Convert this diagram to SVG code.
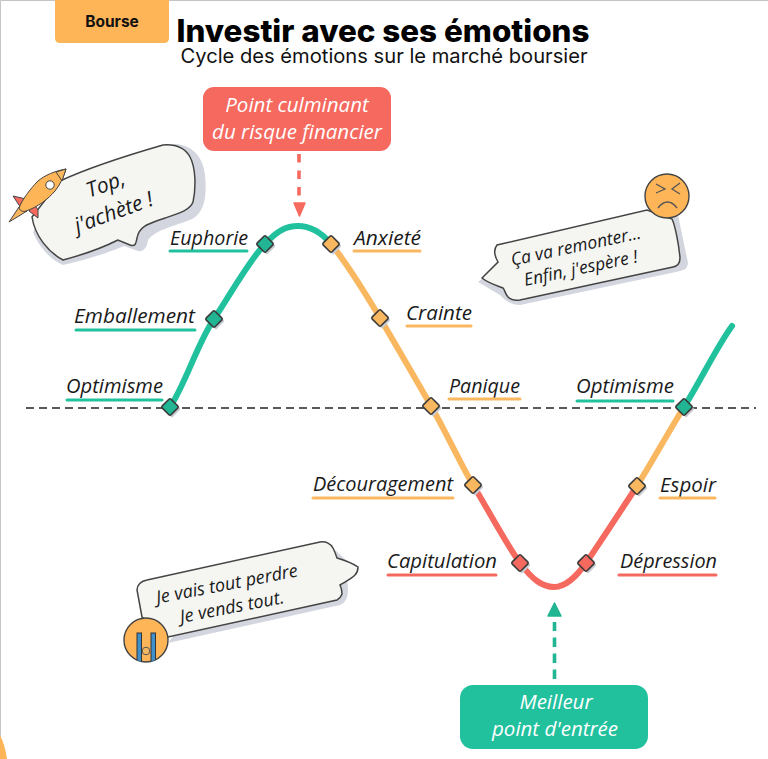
<svg xmlns="http://www.w3.org/2000/svg" width="768" height="759" viewBox="0 0 768 759">
<style>
.hand{font-family:"Open Sans","Noto Sans",sans-serif;font-style:italic;fill:#1a1a1a}
.lab{font-size:20px}
.wh{font-family:"Open Sans","Noto Sans",sans-serif;font-style:italic;fill:#fff;font-size:20.5px;text-anchor:middle}
.ul{stroke-width:3;fill:none;stroke-linecap:round}
.g{stroke:#21C19E}.y{stroke:#F9B75F}.r{stroke:#F5695F}
.cv{fill:none;stroke-width:6;stroke-linecap:round}
.dia{stroke:#3a3a3a;stroke-width:1.6}
.ds{fill:#C9CCD2;stroke:none}
.fg{fill:#21B593}.fy{fill:#F9B75F}.fr{fill:#F5695F}
.sh{fill:#D3D6DE}
.bub{fill:#F5F5F2;stroke:#444;stroke-width:1.5}
.bt{text-anchor:middle}
</style>
<defs>
<rect id="d" x="-6.200" y="-6.200" width="12.400" height="12.400" rx="1.500" transform="rotate(45)"/>
<clipPath id="fc"><circle cx="146" cy="640" r="22"/></clipPath>
</defs>
<rect width="768" height="759" fill="#fff"/>
<path d="M0.500 759V0.500H768" fill="none" stroke="#c4c4c4"/>
<path d="M0 759V735Q5 745 7 759Z" fill="#FDB558"/>
<g id="tag"><path d="M55 0H169V38Q169 43 164 43H60Q55 43 55 38Z" fill="#FDB558"/>
<text x="112" y="27" font-family="Inter,'Liberation Sans',sans-serif" font-weight="700" font-size="15.500" text-anchor="middle" fill="#111">Bourse</text></g>
<g id="title"><text x="383" y="42" font-family="Inter,'Liberation Sans',sans-serif" font-weight="800" font-size="31" text-anchor="middle" fill="#000" textLength="413" lengthAdjust="spacingAndGlyphs">Investir avec ses émotions</text>
<text x="384" y="63" font-family="Inter,'Liberation Sans',sans-serif" font-size="19.500" text-anchor="middle" fill="#111" textLength="407" lengthAdjust="spacingAndGlyphs">Cycle des émotions sur le marché boursier</text></g>

<g id="connectors">
<line x1="26" y1="408" x2="756" y2="408" stroke="#222" stroke-width="1.400" stroke-dasharray="8 5"/>
<path class="cv g" d="M170 407C185 385 198 342 214 319C232 292 248 262 265 244C277 231 286 226 298 226C311 226 321 232 331 244"/>
<path class="cv y" d="M331 244C348 265 364 291 380 318C397 347 414 376 431 406C446 432 459 461 473 485"/>
<path class="cv r" d="M473 485C489 511 505 542 520 563C532 579 542 587 554 587C566 587 576 577 586 563C603 538 620 512 637 486"/>
<path class="cv y" d="M637 486C653 460 668 433 684 407"/>
<path class="cv g" d="M684 407C700 382 716 348 732 326"/>
<line x1="299" y1="154" x2="299" y2="198" stroke="#F5695F" stroke-width="3.600" stroke-dasharray="8.500 8"/>
<path d="M294 203L299.500 216L305 203Z" fill="#F5695F" stroke="#F5695F" stroke-width="1.500" stroke-linejoin="round"/>
<line x1="554.500" y1="679" x2="554.500" y2="622" stroke="#21B593" stroke-width="3.600" stroke-dasharray="9.500 6.500"/>
<path d="M548 616L554.500 603L561 616Z" fill="#21B593" stroke="#21B593" stroke-width="1.500" stroke-linejoin="round"/>
</g>

<g id="n-optimisme1"><use href="#d" class="ds" x="172" y="409"/><use href="#d" class="dia fg" x="170" y="407"/><text class="hand lab" x="66" y="393" textLength="97" lengthAdjust="spacingAndGlyphs">Optimisme</text><line class="ul g" x1="67" y1="400" x2="162" y2="400"/></g>
<g id="n-emballement"><use href="#d" class="ds" x="216" y="321"/><use href="#d" class="dia fg" x="214" y="319"/><text class="hand lab" x="74" y="323" textLength="121" lengthAdjust="spacingAndGlyphs">Emballement</text><line class="ul g" x1="76" y1="330" x2="195" y2="330"/></g>
<g id="n-euphorie"><use href="#d" class="ds" x="267" y="246"/><use href="#d" class="dia fg" x="265" y="244"/><text class="hand lab" x="170" y="245" textLength="78" lengthAdjust="spacingAndGlyphs">Euphorie</text><line class="ul g" x1="170" y1="251" x2="247" y2="251"/></g>
<g id="n-anxiete"><use href="#d" class="ds" x="333" y="246"/><use href="#d" class="dia fy" x="331" y="244"/><text class="hand lab" x="354" y="245" textLength="67" lengthAdjust="spacingAndGlyphs">Anxieté</text><line class="ul y" x1="354" y1="251" x2="420" y2="251"/></g>
<g id="n-crainte"><use href="#d" class="ds" x="382" y="320"/><use href="#d" class="dia fy" x="380" y="318"/><text class="hand lab" x="406" y="320" textLength="66" lengthAdjust="spacingAndGlyphs">Crainte</text><line class="ul y" x1="407" y1="326" x2="471" y2="326"/></g>
<g id="n-panique"><use href="#d" class="ds" x="433" y="408"/><use href="#d" class="dia fy" x="431" y="406"/><text class="hand lab" x="449" y="393" textLength="71" lengthAdjust="spacingAndGlyphs">Panique</text><line class="ul y" x1="449" y1="399" x2="520" y2="399"/></g>
<g id="n-decouragement"><use href="#d" class="ds" x="475" y="487"/><use href="#d" class="dia fy" x="473" y="485"/><text class="hand lab" x="313" y="491" textLength="140" lengthAdjust="spacingAndGlyphs">Découragement</text><line class="ul y" x1="313" y1="498" x2="453" y2="498"/></g>
<g id="n-capitulation"><use href="#d" class="ds" x="522" y="565"/><use href="#d" class="dia fr" x="520" y="563"/><text class="hand lab" x="387" y="568" textLength="110" lengthAdjust="spacingAndGlyphs">Capitulation</text><line class="ul r" x1="388" y1="575" x2="496" y2="575"/></g>
<g id="n-depression"><use href="#d" class="ds" x="588" y="565"/><use href="#d" class="dia fr" x="586" y="563"/><text class="hand lab" x="620" y="568" textLength="97" lengthAdjust="spacingAndGlyphs">Dépression</text><line class="ul r" x1="619" y1="575" x2="716" y2="575"/></g>
<g id="n-espoir"><use href="#d" class="ds" x="639" y="488"/><use href="#d" class="dia fy" x="637" y="486"/><text class="hand lab" x="660" y="492" textLength="56" lengthAdjust="spacingAndGlyphs">Espoir</text><line class="ul y" x1="660" y1="498" x2="715" y2="498"/></g>
<g id="n-optimisme2"><use href="#d" class="ds" x="686" y="409"/><use href="#d" class="dia fg" x="684" y="407"/><text class="hand lab" x="576" y="393" textLength="98" lengthAdjust="spacingAndGlyphs">Optimisme</text><line class="ul g" x1="577" y1="401" x2="673" y2="401"/></g>

<g id="n-culminant"><rect x="203" y="87" width="188" height="64" rx="11" fill="#F5695F"/>
<text class="wh" x="297" y="112">Point culminant</text><text class="wh" x="297" y="139">du risque financier</text></g>
<g id="n-entree"><rect x="460" y="685" width="188" height="64" rx="13" fill="#21C19E"/>
<text class="wh" x="556" y="709">Meilleur</text><text class="wh" x="555" y="736">point d'entrée</text></g>

<g id="b-top">
<path class="sh" d="M50 200L174 144C190 144 203 155 205 175C207 195 205 212 192 219C175 226 155 230 148 240C147 248 143 252 138 251L124 246C105 254 85 260 63 265C50 260 38 245 33 232Z"/>
<path class="bub" d="M32 217C35 236 48 252 63 260C82 255 102 248 118 240L130 245C135 247 136 244 137 238C139 226 148 224 165 218C180 213 190 210 193 202C196 188 196 168 190 157C185 148 175 144 163 145C125 156 90 167 60 181Z"/>
<text class="hand bt" font-size="21" transform="translate(108 191) rotate(-20)">Top,</text>
<text class="hand bt" font-size="21" transform="translate(116 219) rotate(-20)">j'achète !</text>
<g id="rocket" stroke="#444" stroke-width="1" stroke-linejoin="round">
<path d="M13 196L26 199L31 203L21 208Z" fill="#F5695F"/>
<path d="M38 218L29 211L34 204L38 210Z" fill="#F5695F"/>
<path d="M9 222L19 207L27 211Z" fill="#F9B75F"/>
<path d="M66 169C55 171 45 175 38 181C30 189 22 200 19 208C20 211 23 212 26 211C38 207 48 199 55 191C60 185 64 176 66 169Z" fill="#FDB558"/>
<path d="M66 169L56 172L62 181Z" fill="#F9B75F"/>
<circle cx="50" cy="185" r="4.200" fill="#fff"/>
</g>
</g>

<g id="b-remonter">
<path class="sh" d="M478 282L498 266L660 208L678 215L688 263C687 270 684 270 676 272L520 305C510 305 505 300 500 295Z"/>
<path class="bub" d="M482 278L498 262C494 255 493 250 497 245L647 210L672 219C675 225 679 245 680 258C680 263 678 266 673 267L520 300C513 301 510 299 508 297C505 294 505 290 503 288C498 286 488 283 482 278Z"/>
<text class="hand bt" font-size="17.500" transform="translate(577 252) rotate(-12)">Ça va remonter...</text>
<text class="hand bt" font-size="17.500" transform="translate(582 274) rotate(-12)">Enfin, j'espère !</text>
<circle cx="667" cy="196" r="22" fill="#FDB558" stroke="#444" stroke-width="1.400"/>
<path d="M656 184L665 189L656 193M680 183L672 189L680 194M658 208C664 200 671 200 677 208" fill="none" stroke="#555" stroke-width="1.300"/>
</g>

<g id="b-perdre">
<path class="sh" d="M168 643L340 605C345 603 348 598 348 590L346 560L335 550L200 600Z"/>
<path class="bub" d="M142 617L137 590C137 585 141 581 147 580L320 542C326 541 331 544 333 548C335 552 336 555 337 558C344 560 352 563 358 567C358 571 357 573 355 575C351 579 345 582 340 585C342 589 342 594 342 594C341 597 339 599 337 600L168 637Z"/>
<text class="hand bt" font-size="18" transform="translate(228 590) rotate(-11)">Je vais tout perdre</text>
<text class="hand bt" font-size="18" transform="translate(233 613) rotate(-11)">Je vends tout.</text>
<circle cx="146" cy="640" r="22" fill="#FDB558" stroke="#444" stroke-width="1.400"/>
<g clip-path="url(#fc)"><rect x="137" y="633" width="4.500" height="32" fill="#3F8FCB" stroke="#333"/>
<rect x="151" y="633" width="4.500" height="32" fill="#3F8FCB" stroke="#333"/></g>
<circle cx="146" cy="651" r="3.800" fill="#F9B75F" stroke="#555"/>
</g>
</svg>
